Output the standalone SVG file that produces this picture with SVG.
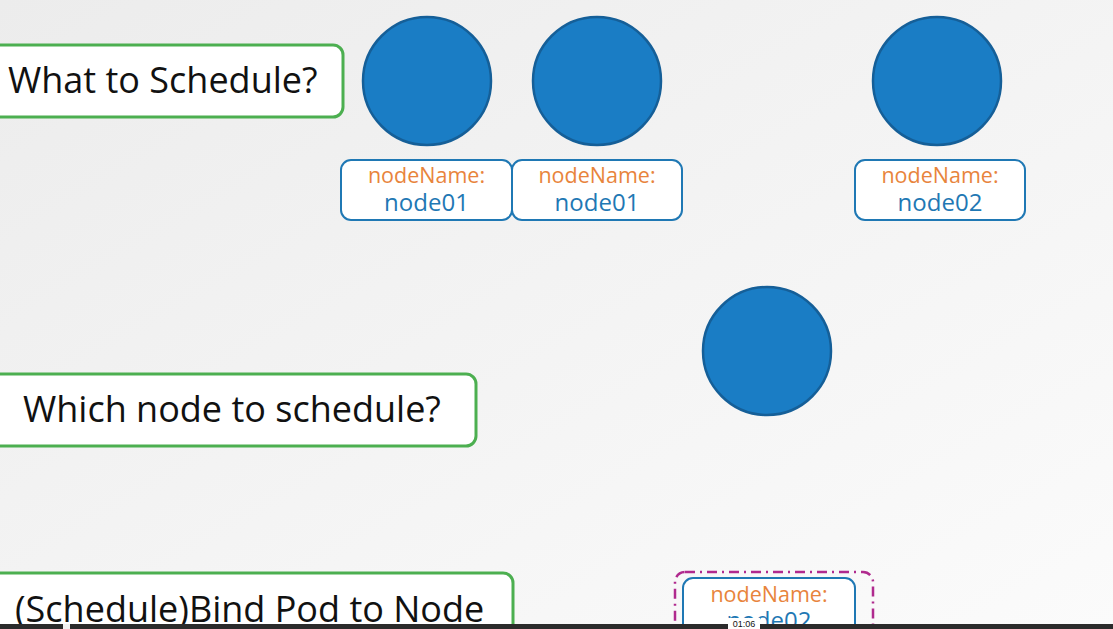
<svg xmlns="http://www.w3.org/2000/svg" width="1113" height="629" viewBox="0 0 1113 629">
  <defs>
    <linearGradient id="bg" x1="0" y1="0" x2="1" y2="1">
      <stop offset="0" stop-color="#ececec"/>
      <stop offset="1" stop-color="#fbfbfb"/>
    </linearGradient>
    <style>
      .step { fill: #ffffff; stroke: #4caf50; stroke-width: 3; }
      .step-text { font-family: "Open Sans", "Noto Sans", sans-serif; font-size: 36px; fill: #111111; }
      .pod { fill: #1a7dc5; stroke: #155f98; stroke-width: 2.5; }
      .tag { fill: #ffffff; stroke: #1f78b4; stroke-width: 2; }
      .tag-key { font-family: "Open Sans", "Noto Sans", sans-serif; font-size: 21.5px; fill: #e8843c; text-anchor: middle; }
      .tag-val { font-family: "Open Sans", "Noto Sans", sans-serif; font-size: 24px; fill: #1f78b4; text-anchor: middle; }
      .bind { fill: none; stroke: #b02a8e; stroke-width: 2.5; stroke-dasharray: 10 5 2 5; }
    </style>
  </defs>

  <rect width="1113" height="629" fill="url(#bg)"/>

  <!-- step labels -->
  <g id="step-what">
    <rect class="step" x="-10" y="45" width="353" height="72" rx="10"/>
    <text class="step-text" x="8" y="93">What to Schedule?</text>
  </g>
  <g id="step-which">
    <rect class="step" x="-10" y="374" width="486" height="72" rx="10"/>
    <text class="step-text" x="23" y="422">Which node to schedule?</text>
  </g>
  <g id="step-bind">
    <rect class="step" x="-10" y="573" width="523" height="80" rx="10"/>
    <text class="step-text" x="15" y="622">(Schedule)Bind Pod to Node</text>
  </g>

  <!-- pods -->
  <g id="pod-1"><circle class="pod" cx="427" cy="81" r="64"/></g>
  <g id="pod-2"><circle class="pod" cx="597" cy="81" r="64"/></g>
  <g id="pod-3"><circle class="pod" cx="937" cy="81" r="64"/></g>
  <g id="pod-4"><circle class="pod" cx="767" cy="351" r="64"/></g>

  <!-- nodeName tags -->
  <g id="tag-1">
    <rect class="tag" x="341" y="160" width="171" height="60" rx="10"/>
    <text class="tag-key" x="426.5" y="183">nodeName:</text>
    <text class="tag-val" x="426.5" y="211">node01</text>
  </g>
  <g id="tag-2">
    <rect class="tag" x="512" y="160" width="170" height="60" rx="10"/>
    <text class="tag-key" x="597" y="183">nodeName:</text>
    <text class="tag-val" x="597" y="211">node01</text>
  </g>
  <g id="tag-3">
    <rect class="tag" x="855" y="160" width="170" height="60" rx="10"/>
    <text class="tag-key" x="940" y="183">nodeName:</text>
    <text class="tag-val" x="940" y="211">node02</text>
  </g>

  <!-- binding being created -->
  <g id="binding">
    <rect class="bind" x="675" y="572" width="198" height="80" rx="10"/>
    <rect class="tag" x="683" y="578" width="172" height="70" rx="10"/>
    <text class="tag-key" x="769" y="602">nodeName:</text>
    <text class="tag-val" x="769" y="629">node02</text>
  </g>

  <!-- player seek bar -->
  <g id="seekbar">
    <rect x="0" y="624" width="1113" height="5" fill="#2b2b2b"/>
    <rect x="63" y="624" width="7" height="5" fill="#f2f2f2"/>
    <rect x="728" y="618" width="32" height="11" fill="#ffffff"/>
    <text x="744" y="627" font-family="Liberation Sans, Arial, sans-serif" font-size="9" fill="#111111" text-anchor="middle">01:06</text>
  </g>
</svg>
